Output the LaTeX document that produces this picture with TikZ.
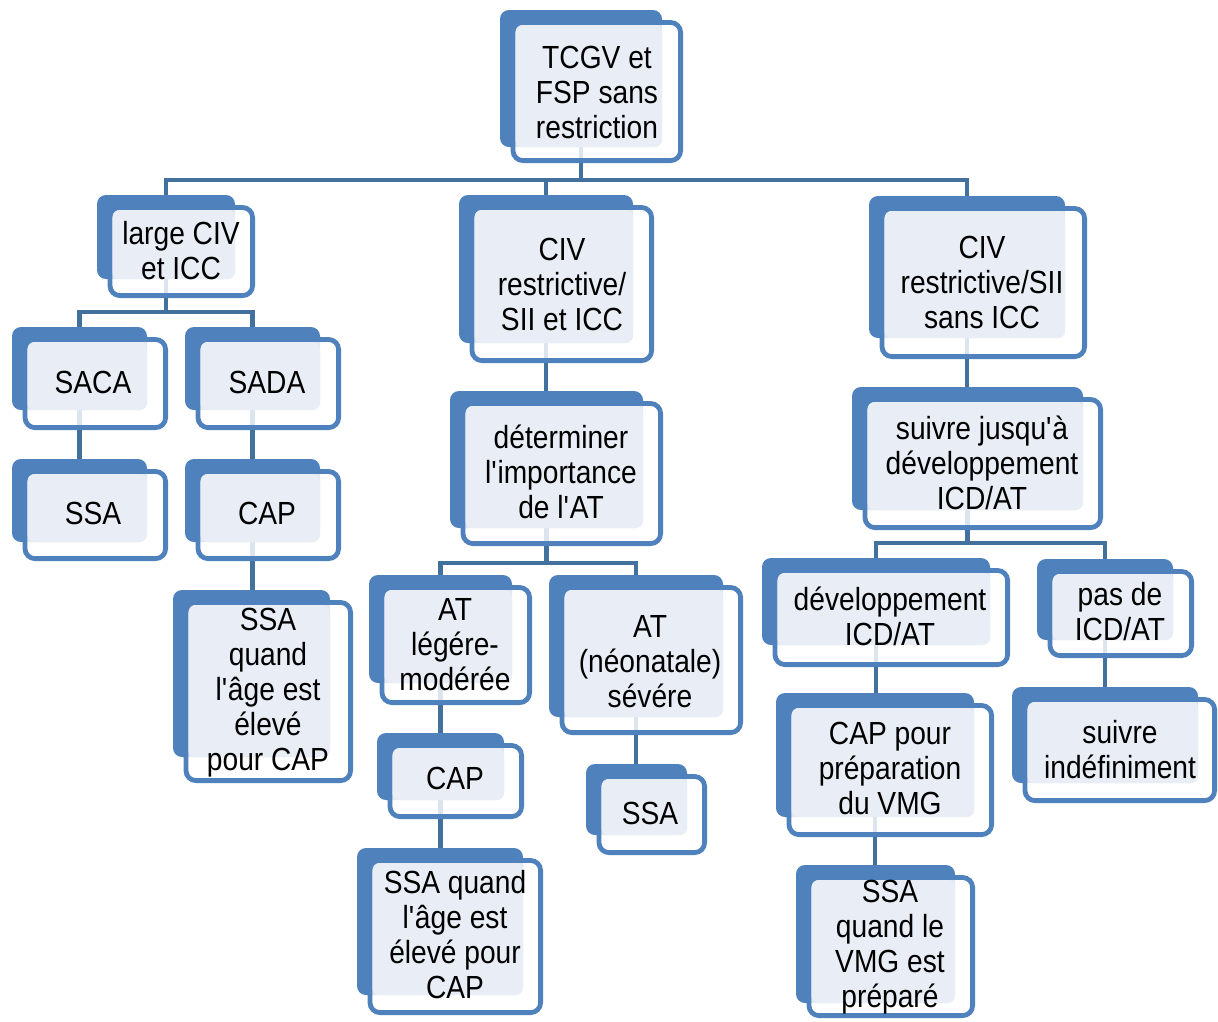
\documentclass[tikz,border=0pt]{standalone}
\usepackage{fontspec}
\setmainfont[FakeStretch=0.88]{Liberation Sans}
\usetikzlibrary{calc,fit}
\definecolor{boxblue}{HTML}{4F81BD}
\definecolor{lineblue}{HTML}{41719C}
\definecolor{paleblue}{HTML}{E9EEF6}
\newcommand\defbox[5]{\path (#2,#3) coordinate (#1-nw) (#4,#5) coordinate (#1-se);
  \node[inner sep=0pt,outer sep=0pt,fit=(#1-nw)(#1-se)] (#1) {};}
\newcommand\drawbox[3]{%
  \fill[boxblue, rounded corners=9pt] (#1.north west) rectangle (#1.south east);
  \draw[boxblue, line width=4.8pt, fill=white, fill opacity=0.82, rounded corners=10pt]
     ($(#1.north west)+(13,12.5)$) rectangle ($(#2,#3)+(-2.4,-2.4)$);
  \fill[paleblue, rounded corners=7pt] ($(#1.north west)+(15.5,15)$) rectangle (#1.south east);}
\tikzset{
  conn/.style={lineblue, line width=4.8pt},
  lbl/.style={align=center, font=\fontsize{32}{35}\selectfont, text=black, inner sep=0pt}
}
\newcommand\q{\textquotesingle}
\begin{document}
\begin{tikzpicture}[x=1pt,y=-1pt]
\useasboundingbox (0,0) rectangle (1218,1021);
% back rectangles as named nodes
\defbox{n1}{500}{10}{662}{147}
\defbox{n2}{97}{195}{235}{279}
\defbox{n3}{459}{195}{633}{343}
\defbox{n4}{869}{196}{1065}{338}
\defbox{n5}{12}{327}{147}{410}
\defbox{n6}{185}{327}{320}{410}
\defbox{n7}{12}{459}{147}{542}
\defbox{n8}{185}{459}{320}{542}
\defbox{n9}{173}{590}{330}{757}
\defbox{n10}{450}{391}{643}{528}
\defbox{n11}{852}{387}{1083}{510}
\defbox{n12}{369}{575}{512}{683}
\defbox{n13}{549}{575}{723}{717}
\defbox{n14}{377}{733}{504}{800}
\defbox{n15}{586}{764}{687}{835}
\defbox{n16}{357}{848}{523}{995}
\defbox{n17}{762}{558}{990}{645}
\defbox{n18}{1037}{559}{1173}{640}
\defbox{n19}{776}{693}{974}{817}
\defbox{n20}{1012}{687}{1198}{783}
\defbox{n21}{796}{865}{955}{1003}
% bus levels
\coordinate (busA) at (0,180);
\coordinate (busB) at (0,312);
\coordinate (busC) at (0,563);
\coordinate (busD) at (0,543);
% connectors
\draw[conn] (n1.south) -- (n1.south |- busA) -| (n2.north);
\draw[conn] (n1.south) -- (n1.south |- busA) -| (n3.north);
\draw[conn] (n1.south) -- (n1.south |- busA) -| (n4.north);
\draw[conn] (n2.south) -- (n2.south |- busB) -| (n5.north);
\draw[conn] (n2.south) -- (n2.south |- busB) -| (n6.north);
\draw[conn] (n5.south) -- (n5.south |- n7.north);
\draw[conn] (n6.south) -- (n6.south |- n8.north);
\draw[conn] (n8.south) -- (n8.south |- n9.north);
\draw[conn] (n3.south) -- (n3.south |- n10.north);
\draw[conn] (n10.south) -- (n10.south |- busC) -| (n12.north);
\draw[conn] (n10.south) -- (n10.south |- busC) -| (n13.north);
\draw[conn] (n12.south) -- (n12.south |- n14.north);
\draw[conn] (n14.south) -- (n14.south |- n16.north);
\draw[conn] (n13.south) -- (n13.south |- n15.north);
\draw[conn] (n4.south) -- (n4.south |- n11.north);
\draw[conn] (n11.south) -- (n11.south |- busD) -| (n17.north);
\draw[conn] (n11.south) -- (n11.south |- busD) -| (n18.north);
\draw[conn] (n17.south) -- (n17.south |- n19.north);
\draw[conn] (n19.south) -- (n19.south |- n21.north);
\draw[conn] (n18.south) -- (n18.south |- n20.north);
% boxes
\drawbox{n1}{683}{163}
\drawbox{n2}{255}{298}
\drawbox{n3}{654}{363}
\drawbox{n4}{1087}{359}
\drawbox{n5}{168}{430}
\drawbox{n6}{341}{430}
\drawbox{n7}{168}{561}
\drawbox{n8}{341}{561}
\drawbox{n9}{353}{783}
\drawbox{n10}{663}{546}
\drawbox{n11}{1103}{530}
\drawbox{n12}{532}{705}
\drawbox{n13}{743}{735}
\drawbox{n14}{524}{819}
\drawbox{n15}{707}{855}
\drawbox{n16}{543}{1015}
\drawbox{n17}{1010}{667}
\drawbox{n18}{1194}{658}
\drawbox{n19}{994}{837}
\drawbox{n20}{1217}{803}
\drawbox{n21}{975}{1018}
% labels
\node[lbl] (t1) at (597,92) {TCGV et\\FSP sans\\restriction};
\node[lbl] (t2) at (181,251) {large CIV\\et ICC};
\node[lbl] (t3) at (562,284) {CIV\\restrictive/\\SII et ICC};
\node[lbl] (t4) at (982,282) {CIV\\restrictive/SII\\sans ICC};
\node[lbl] (t5) at (93,382) {SACA};
\node[lbl] (t6) at (267,382) {SADA};
\node[lbl] (t7) at (93,513) {SSA};
\node[lbl] (t8) at (267,513) {CAP};
\node[lbl] (t9) at (268,693) {SSA\\quand\\l\q âge est\\élevé\\pour CAP};
\node[lbl] (t10) at (561,472) {déterminer\\l\q importance\\de l\q AT};
\node[lbl] (t11) at (982,463) {suivre jusqu\q à\\développement\\ICD/AT};
\node[lbl] (t12) at (455,645) {AT\\légére-\\modérée};
\node[lbl] (t13) at (650,662) {AT\\(néonatale)\\sévére};
\node[lbl] (t14) at (455,778) {CAP};
\node[lbl] (t15) at (650,813) {SSA};
\node[lbl] (t16) at (455,935) {SSA quand\\l\q âge est\\élevé pour\\CAP};
\node[lbl] (t17) at (890,616) {développement\\ICD/AT};
\node[lbl] (t18) at (1120,612) {pas de\\ICD/AT};
\node[lbl] (t19) at (890,768) {CAP pour\\préparation\\du VMG};
\node[lbl] (t20) at (1120,750) {suivre\\indéfiniment};
\node[lbl] (t21) at (890,947) {SSA\\quand le\\VMG est\\préparé};
\end{tikzpicture}
\end{document}
